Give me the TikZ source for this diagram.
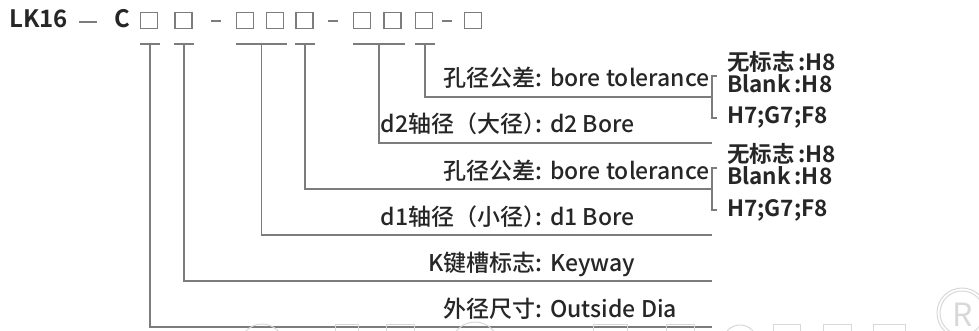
\documentclass[tikz,border=0pt]{standalone}
\usepackage{fontspec}
\setmainfont{Noto Sans CJK SC}[BoldFont={Noto Sans CJK SC Bold}]
\newfontfamily\medfont{Noto Sans CJK SC Medium}
\usetikzlibrary{positioning}
\definecolor{leadgray}{HTML}{7C7C7C}
\definecolor{inkgray}{HTML}{262626}
\definecolor{ghost}{HTML}{D8D8D8}
\tikzset{
  codebox/.style={draw=leadgray,line width=1.2pt,minimum width=17pt,minimum height=16pt,inner sep=0pt},
  lead/.style={draw=leadgray,line width=1.5pt},
  cnlabel/.style={anchor=base east,inner sep=0pt,text=inkgray,font=\fontsize{23}{23}\selectfont\medfont},
  enlabel/.style={anchor=base west,inner sep=0pt,text=inkgray,font=\fontsize{23}{23}\selectfont\medfont},
  optlabel/.style={anchor=base west,inner sep=0pt,text=inkgray,font=\fontsize{22.5}{22.5}\selectfont\bfseries},
  toplabel/.style={anchor=base west,inner sep=0pt,text=inkgray,font=\fontsize{24}{24}\selectfont\bfseries}
}
\begin{document}
\begin{tikzpicture}[x=1pt,y=-1pt]
\useasboundingbox (0,0) rectangle (979,331);
\clip (0,0) rectangle (979,331);
% code line
\node[toplabel] (lk) at (9,28) {LK16};
\draw[leadgray,line width=1.3pt] (79,22) -- (97,22);
\node[toplabel] (c) at (114,28) {C};
\node[codebox] (b1) at (149,20.5) {};
\node[codebox] (b2) at (183.5,20.5) {};
\node[codebox] (b3) at (245,20.5) {};
\node[codebox] (b4) at (275,20.5) {};
\node[codebox] (b5) at (304.5,20.5) {};
\node[codebox] (b6) at (362,20.5) {};
\node[codebox] (b7) at (392.5,20.5) {};
\node[codebox] (b8) at (424,20.5) {};
\node[codebox] (b9) at (473,20.5) {};
\foreach \dx in {216,333,447}
  \draw[leadgray,line width=1.3pt] (\dx-5,21) -- (\dx+5,21);
% bars under the boxes
\coordinate (t1) at (150,44);
\coordinate (t2) at (184,44);
\coordinate (t3) at (261.5,44);
\coordinate (t4) at (305,44);
\coordinate (t5) at (379,44);
\coordinate (t6) at (425,44);
\draw[lead] ([xshift=-10pt]t1) -- ([xshift=10pt]t1);
\draw[lead] ([xshift=-10pt]t2) -- ([xshift=10pt]t2);
\draw[lead] ([xshift=-25.5pt]t3) -- ([xshift=25.5pt]t3);
\draw[lead] ([xshift=-10pt]t4) -- ([xshift=10pt]t4);
\draw[lead] ([xshift=-26pt]t5) -- ([xshift=26pt]t5);
\draw[lead] ([xshift=-10pt]t6) -- ([xshift=10pt]t6);
% line ends on the right
\coordinate (e6) at (712,97);
\coordinate (e5) at (712,143);
\coordinate (e4) at (712,189);
\coordinate (e3) at (712,235);
\coordinate (e2) at (712,281);
\coordinate (e1) at (712,327);
\draw[lead] (t6) |- (e6);
\draw[lead] (t5) |- (e5);
\draw[lead] (t4) |- (e4);
\draw[lead] (t3) |- (e3);
\draw[lead] (t2) |- (e2);
\draw[lead] (t1) |- (e1);
% brackets
\draw[lead,line width=1.2pt] ([xshift=5pt,yshift=21pt]e6) -| ([yshift=-21pt]e6) -- ++(5,0);
\draw[lead,line width=1.2pt] ([xshift=5pt,yshift=21pt]e4) -| ([yshift=-21pt]e4) -- ++(5,0);
% labels
\node[cnlabel] (tol2cn) at (543,87) {孔径公差:};
\node[enlabel] (tol2en) at (550,87) {bore tolerance};
\node[cnlabel] (d2cn) at (543,133) {d2轴径（大径）\kern-0.45em:};
\node[enlabel] (d2en) at (550,133) {d2 Bore};
\node[cnlabel] (tol1cn) at (543,179) {孔径公差:};
\node[enlabel] (tol1en) at (550,179) {bore tolerance};
\node[cnlabel] (d1cn) at (543,225) {d1轴径（小径）\kern-0.45em:};
\node[enlabel] (d1en) at (550,225) {d1 Bore};
\node[cnlabel] (kcn) at (543,271) {K键槽标志:};
\node[enlabel] (ken) at (550,271) {Keyway};
\node[cnlabel] (odcn) at (543,317) {外径尺寸:};
\node[enlabel] (oden) at (550,317) {Outside Dia};
% tolerance options
\foreach \e in {e6,e4} {
  \node[optlabel] at ([xshift=15pt,yshift=26pt]\e) {无标志\,:H8};
  \node[optlabel] at ([xshift=15pt,yshift=4pt]\e) {Blank\,:H8};
  \node[optlabel] at ([xshift=15pt,yshift=-27pt]\e) {H7;G7;F8};
}
% cut-off row at the bottom edge
\begin{scope}[ghost,line width=1pt]
\draw (262,346) circle (22);
\draw (475,346) circle (24);
\draw (740,342) circle (17);
\foreach \xa/\xb in {335/358,386/414,593/627,666/694,773/800,823/851,873/905}
  \draw (\xa,324) rectangle (\xb,345);
\draw (962,313) circle (25);
\draw (962,313) circle (22);
\node[text=ghost,font=\fontsize{32}{32}\selectfont] (reg) at (963,315) {R};
\end{scope}
\end{tikzpicture}
\end{document}
